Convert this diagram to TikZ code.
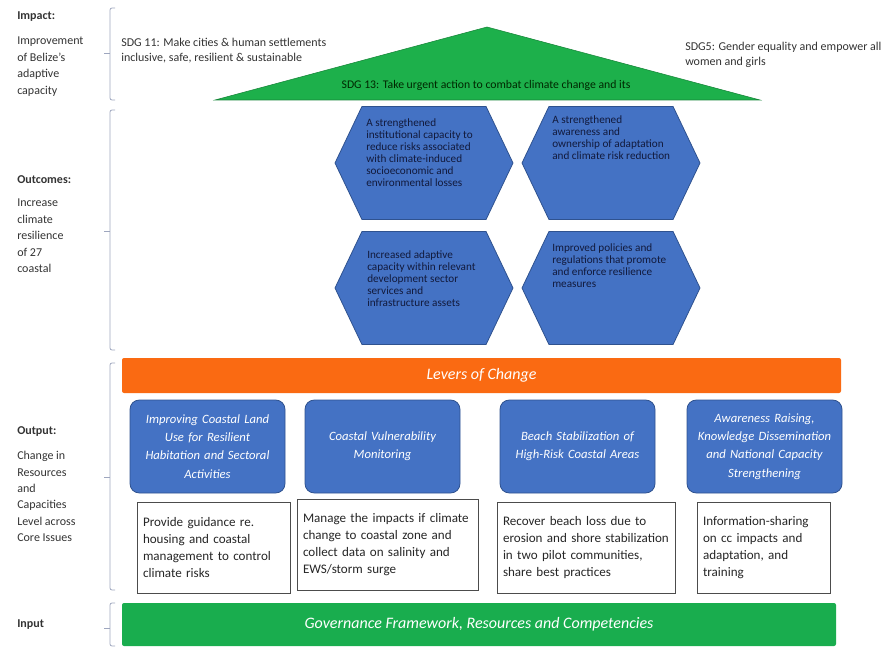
\documentclass[tikz,border=0pt]{standalone}
\usepackage{fontspec}
\setmainfont{Carlito}
\usetikzlibrary{shapes.symbols,positioning}
\definecolor{hexBlue}{HTML}{4472C4}
\definecolor{hexEdge}{HTML}{2F528F}
\definecolor{hexInk}{HTML}{121A3C}
\definecolor{sdgGreen}{HTML}{1DB04B}
\definecolor{baseGreen}{HTML}{19AD4E}
\definecolor{leverOrange}{HTML}{FA6A12}
\definecolor{braceGrey}{HTML}{9EA6BE}

\begin{document}
\begin{tikzpicture}[x=0.75pt,y=-0.75pt,
  sidelbl/.style={anchor=north west,align=left,inner sep=0pt,text=black!80,font=\fontsize{9}{12.3}\selectfont},
  sidehead/.style={sidelbl,font=\fontsize{9}{12.3}\selectfont\bfseries},
  brk/.style={draw=braceGrey,line width=0.6pt,rounded corners=1.5pt},
  sdgtxt/.style={anchor=north west,align=left,inner sep=0pt,text=black!80,font=\fontsize{9}{11.3}\selectfont},
  hexcell/.style={signal,signal to=east and west,signal pointer angle=129,fill=hexBlue,draw=hexEdge,line width=0.6pt,
    minimum width=133.5pt,minimum height=84.75pt,inner sep=0pt},
  hextxt/.style={anchor=north west,align=left,inner sep=0pt,text=hexInk,font=\fontsize{8.4}{9}\selectfont},
  lever/.style={fill=leverOrange,rounded corners=1.5pt,minimum width=539.25pt,minimum height=26.25pt,
    text=white,font=\fontsize{12}{14}\selectfont\itshape},
  outbox/.style={fill=hexBlue,draw=hexEdge,line width=0.6pt,rounded corners=7pt,minimum width=116.25pt,
    minimum height=69.75pt,text width=105pt,align=center,text=white,font=\fontsize{9.5}{13.7}\selectfont\itshape},
  actbox/.style={draw=black!70,line width=0.6pt,minimum height=68.25pt,inner xsep=4.5pt,align=left,
    text=black!85,font=\fontsize{9.8}{12.75}\selectfont},
  basebar/.style={fill=baseGreen,rounded corners=1.5pt,minimum width=535.5pt,minimum height=32.25pt,
    text=white,font=\fontsize{12}{14}\selectfont\itshape}
]
\useasboundingbox (0,0) rectangle (881,648);

% left column
\node[sidehead] (impact) at (17,11) {Impact:};
\node[sidelbl] (impacttxt) at (17,37) {Improvement\\of Belize's\\adaptive\\capacity};
\node[sidehead] (outcomes) at (17,175) {Outcomes:};
\node[sidelbl] (outcomestxt) at (17,199) {Increase\\climate\\resilience\\of 27\\coastal};
\node[sidehead] (output) at (17,426) {Output:};
\node[sidelbl] (outputtxt) at (17,451) {Change in\\Resources\\and\\Capacities\\Level across\\Core Issues};
\node[sidehead] (input) at (17,619) {Input};

% brackets
\draw[brk] (115,8) -- (110,8) -- (110,100) -- (115,100);
\draw[brk] (104,53) -- (110,53);
\draw[brk] (115,110) -- (110,110) -- (110,350) -- (115,350);
\draw[brk] (104,231) -- (110,231);
\draw[brk] (115,363) -- (110,363) -- (110,590) -- (115,590);
\draw[brk] (104,477) -- (110,477);
\draw[brk] (115,603) -- (110,603) -- (110,646) -- (115,646);
\draw[brk] (104,628) -- (110,628);

% impact
\draw[fill=sdgGreen,draw=sdgGreen!75!black,line width=0.4pt] (215,100) -- (487,27) -- (760,100) -- cycle;
\node[sdgtxt] (sdg11) at (121,38) {SDG 11: Make cities \& human settlements\\inclusive, safe, resilient \& sustainable};
\node[sdgtxt] (sdg5) at (685,42) {SDG5: Gender equality and empower all\\women and girls};
\node[text=black!85!green,font=\fontsize{8.8}{10}\selectfont] (sdg13) at (486,85) {SDG 13: Take urgent action to combat climate change and its};

% outcomes
\node[hexcell] (oc1) at (424,163) {};
\node[hexcell] (oc2) at (611,163) {};
\node[hexcell] (oc3) at (424,288) {};
\node[hexcell] (oc4) at (611,288) {};
\node[hextxt] (oc1txt) at (366,118) {A strengthened\\institutional capacity to\\reduce risks associated\\with climate-induced\\socioeconomic and\\environmental losses};
\node[hextxt] (oc2txt) at (552,115) {A strengthened\\awareness and\\ownership of adaptation\\and climate risk reduction};
\node[hextxt] (oc3txt) at (367,250) {Increased adaptive\\capacity within relevant\\development sector\\services and\\infrastructure assets};
\node[hextxt] (oc4txt) at (552,243) {Improved policies and\\regulations that promote\\and enforce resilience\\measures};

% outputs
\node[lever] (levers) at (481.5,375.5) {Levers of Change};
\node[outbox] (lv1) at (207.5,446.5) {Improving Coastal Land\\Use for Resilient\\Habitation and Sectoral\\Activities};
\node[outbox] (lv2) at (382.5,446.5) {Coastal Vulnerability\\Monitoring};
\node[outbox] (lv3) at (577.5,446.5) {Beach Stabilization of\\High-Risk Coastal Areas};
\node[outbox] (lv4) at (764.5,446.5) {Awareness Raising,\\Knowledge Dissemination\\and National Capacity\\Strengthening};
\node[actbox,minimum width=114.75pt,text width=105.75pt] (act1) at (213.5,547.5) {Provide guidance re.\\housing and coastal\\management to control\\climate risks};
\node[actbox,minimum width=135.75pt,text width=126.75pt] (act2) at (387.5,545) {Manage the impacts if climate\\change to coastal zone and\\collect data on salinity and\\EWS/storm surge};
\node[actbox,minimum width=133.5pt,text width=124.5pt] (act3) at (586,547.5) {Recover beach loss due to\\erosion and shore stabilization\\in two pilot communities,\\share best practices};
\node[actbox,minimum width=99.75pt,text width=90.75pt] (act4) at (763.5,547.5) {Information-sharing\\on cc impacts and\\adaptation, and\\training};

% input
\node[basebar] (inputbar) at (479,624.5) {Governance Framework, Resources and Competencies};
\end{tikzpicture}
\end{document}
